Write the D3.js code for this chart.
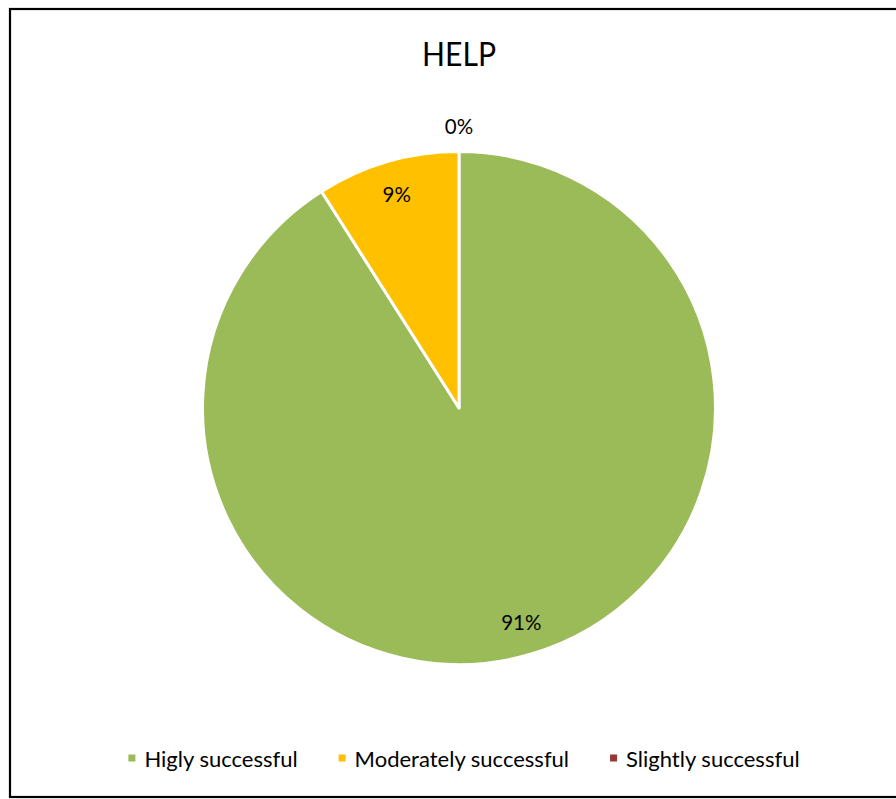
<!DOCTYPE html>
<html>
<head>
<meta charset="utf-8">
<script src="https://cdn.jsdelivr.net/npm/d3@7"></script>
<style>
  html, body { margin: 0; padding: 0; background: #fff; }
  svg { display: block; }
  text { font-family: Lato, "Open Sans", sans-serif; fill: #000; }
</style>
</head>
<body>
<svg id="chart" width="896" height="799"></svg>
<script>
const title = "HELP";
const categories = ["Higly successful", "Moderately successful", "Slightly successful"];
const values = [91, 9, 0];
const colors = ["#9BBB59", "#FFC000", "#953735"];

const W = 896, H = 799;
const svg = d3.select("#chart");

// chart border (right edge runs off the image)
svg.append("rect")
  .attr("x", 10).attr("y", 9)
  .attr("width", 920).attr("height", 788)
  .attr("fill", "#fff")
  .attr("stroke", "#000")
  .attr("stroke-width", 2.2);

// title
svg.append("text")
  .attr("x", 459).attr("y", 53)
  .attr("text-anchor", "middle")
  .attr("dominant-baseline", "central")
  .attr("font-size", 33)
  .attr("textLength", 74)
  .attr("lengthAdjust", "spacingAndGlyphs")
  .text(title);

const cx = 459, cy = 408, r = 256.5;
const data = categories.map((c, i) => ({ cat: c, value: values[i], color: colors[i] }));
const total = d3.sum(values);

const pie = d3.pie().sort(null).value(d => d.value);
const arcs = pie(data);
const arc = d3.arc().innerRadius(0).outerRadius(r);

const g = svg.append("g").attr("transform", `translate(${cx},${cy})`);

g.selectAll("path.slice")
  .data(arcs)
  .join("path")
  .attr("class", "slice")
  .attr("d", arc)
  .attr("fill", d => d.data.color)
  .attr("stroke", "#fff")
  .attr("stroke-width", d => d.value > 0 ? 3 : 0)
  .attr("stroke-linejoin", "round");

// data labels
const fmt = d => Math.round(d.value / total * 100) + "%";
const insideArc = d3.arc().innerRadius(r * 0.87).outerRadius(r * 0.87);
const outsideArc = d3.arc().innerRadius(r * 1.1).outerRadius(r * 1.1);

g.selectAll("text.lbl")
  .data(arcs)
  .join("text")
  .attr("class", "lbl")
  .attr("transform", d => {
    const p = d.value > 0 ? insideArc.centroid(d) : outsideArc.centroid(d);
    return `translate(${p[0]},${p[1]})`;
  })
  .attr("text-anchor", "middle")
  .attr("dominant-baseline", "central")
  .attr("font-size", 20.5)
  .text(fmt);

// legend
const legend = svg.append("g");
const items = legend.selectAll("g.item")
  .data(data)
  .join("g")
  .attr("class", "item");

items.append("rect")
  .attr("width", 7).attr("height", 7)
  .attr("y", -3.5)
  .attr("fill", d => d.color);

items.append("text")
  .attr("x", 16)
  .attr("dominant-baseline", "central")
  .attr("font-size", 22)
  .text(d => d.cat);

const widths = [];
items.each(function () {
  widths.push(16 + d3.select(this).select("text").node().getComputedTextLength());
});
const gap = 41;
const totalW = d3.sum(widths) + gap * (widths.length - 1);
let x0 = 464 - totalW / 2;
items.attr("transform", (d, i) => {
  const x = x0;
  x0 += widths[i] + gap;
  return `translate(${x},758)`;
});
</script>
</body>
</html>
